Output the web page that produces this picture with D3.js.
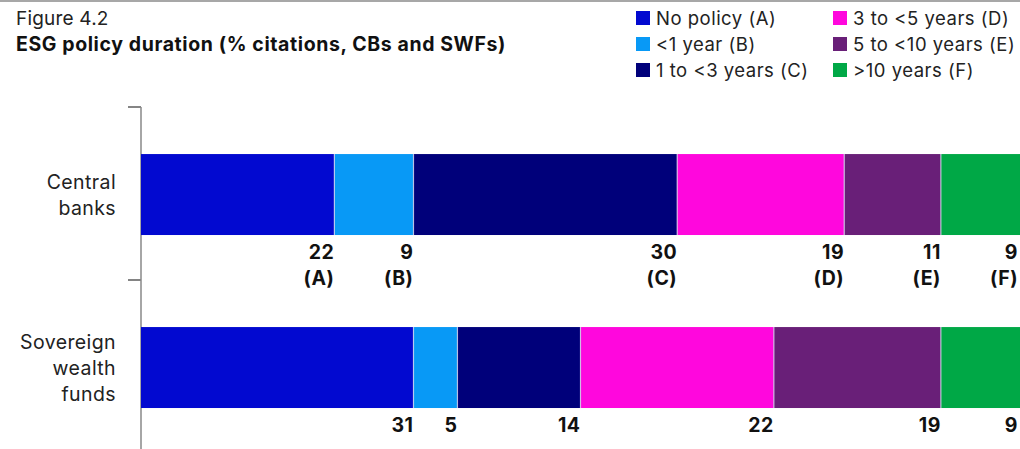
<!DOCTYPE html>
<html><head><meta charset="utf-8">
<script src="https://cdn.jsdelivr.net/npm/d3@7"></script>
<style>
html,body{margin:0;padding:0;background:#fff;}
svg{display:block;font-family:Inter,"Noto Sans",sans-serif;}
</style></head>
<body>
<svg id="c" width="1020" height="449"></svg>
<script>
const categories = ["Central banks", "Sovereign wealth funds"];
const categoryLines = [["Central", "banks"], ["Sovereign", "wealth", "funds"]];
const seriesNames = ["No policy (A)", "<1 year (B)", "1 to <3 years (C)", "3 to <5 years (D)", "5 to <10 years (E)", ">10 years (F)"];
const seriesLetters = ["(A)", "(B)", "(C)", "(D)", "(E)", "(F)"];
const colors = ["#0209d0", "#0899f6", "#00007a", "#ff07dd", "#691f78", "#00a846"];
const centralBanks = [22, 9, 30, 19, 11, 9];
const sovereignFunds = [31, 5, 14, 22, 19, 9];
const values = [centralBanks, sovereignFunds];

const svg = d3.select("#c");
const W = 1020, H = 449;

// top rule
svg.append("line").attr("x1", 0).attr("x2", W).attr("y1", 1).attr("y2", 1)
  .attr("stroke", "#8a8a8a").attr("stroke-width", 1.5);

// titles
svg.append("text").attr("x", 16).attr("y", 25).attr("font-size", 19).attr("letter-spacing", 0.2).attr("fill", "#222").text("Figure 4.2");
svg.append("text").attr("x", 16).attr("y", 51).attr("font-size", 19.5).attr("letter-spacing", 0.6).attr("font-weight", 700).attr("fill", "#111").text("ESG policy duration (% citations, CBs and SWFs)");

// legend
const legX = [636, 833];
seriesNames.forEach((n, i) => {
  const col = Math.floor(i / 3), row = i % 3;
  const g = svg.append("g").attr("transform", `translate(${legX[col]},${18 + row * 26})`);
  g.append("rect").attr("x", 0).attr("y", -7).attr("width", 14).attr("height", 14).attr("fill", colors[i]);
  g.append("text").attr("x", 20).attr("y", 6.5).attr("font-size", 18.5).attr("letter-spacing", 0.5).attr("fill", "#222").text(n);
});

const x = d3.scaleLinear().domain([0, 100]).range([141, 1020]);
const y = d3.scaleBand().domain(categories).range([107, 453]);
const step = y.step();
const barOff = step * 0.272, barH = step * 0.468;

// ticks at band boundaries
categories.forEach(c => {
  svg.append("line").attr("x1", 128).attr("x2", 141).attr("y1", y(c)).attr("y2", y(c)).attr("stroke", "#333").attr("stroke-width", 1.2);
});
svg.append("line").attr("x1", 141).attr("x2", 141).attr("y1", 107).attr("y2", H).attr("stroke", "#888").attr("stroke-width", 1.5);

// category labels
categories.forEach((c, ci) => {
  const lines = categoryLines[ci];
  const cy = y(c) + barOff + barH / 2;
  const lh = 26;
  const t = svg.append("text").attr("text-anchor", "end").attr("font-size", 19.5).attr("letter-spacing", 0.4).attr("fill", "#222");
  lines.forEach((l, li) => {
    t.append("tspan").attr("x", 116).attr("y", cy + (li - (lines.length - 1) / 2) * lh + 7).text(l);
  });
});

// bars
categories.forEach((c, ci) => {
  let cum = 0;
  values[ci].forEach((v, si) => {
    const x0 = x(cum), x1 = x(cum + v);
    const by = y(c) + barOff;
    svg.append("rect").attr("x", x0).attr("y", by).attr("width", x1 - x0).attr("height", barH).attr("fill", colors[si]);
    cum += v;
  });
  // separators
  cum = 0;
  values[ci].forEach((v, si) => {
    cum += v;
    if (si < values[ci].length - 1) {
      svg.append("line").attr("x1", x(cum)).attr("x2", x(cum)).attr("y1", y(c) + barOff).attr("y2", y(c) + barOff + barH)
        .attr("stroke", "#d8d8f0").attr("stroke-width", 1.2).attr("opacity", 0.8);
    }
  });
  // value labels
  cum = 0;
  values[ci].forEach((v, si) => {
    cum += v;
    const lx = Math.min(x(cum), 1018);
    const ly = y(c) + barOff + barH + 24;
    svg.append("text").attr("x", lx).attr("y", ly).attr("text-anchor", "end").attr("font-size", 19.5).attr("letter-spacing", 0.5).attr("font-weight", 700).attr("fill", "#111").text(v);
    if (ci === 0) {
      svg.append("text").attr("x", lx).attr("y", ly + 26).attr("text-anchor", "end").attr("font-size", 19.5).attr("letter-spacing", 0.5).attr("font-weight", 700).attr("fill", "#111").text(seriesLetters[si]);
    }
  });
});
</script>
</body></html>
